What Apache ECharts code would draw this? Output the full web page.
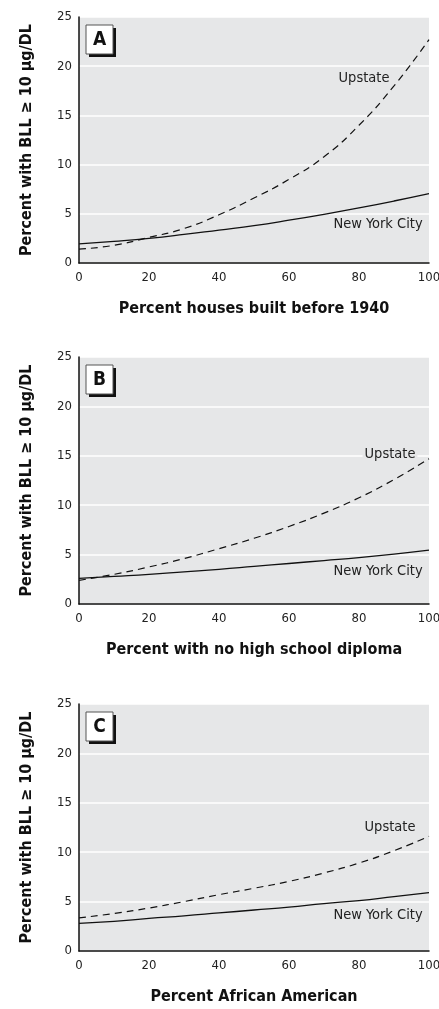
<!DOCTYPE html>
<html>
<head>
<meta charset="utf-8">
<script src="https://cdn.jsdelivr.net/npm/echarts@6/dist/echarts.min.js"></script>
<style>
  html, body { margin: 0; padding: 0; background: #fff; }
  #main { width: 439px; height: 1009px; }
</style>
</head>
<body>
<div id="main"></div>
<script>
  // x positions shared by all three panels
  var xValues = [0, 10, 20, 30, 40, 50, 60, 70, 80, 90, 100]

  // A: percent houses built before 1940
  var nycA = [1.95, 2.2, 2.5, 2.9, 3.35, 3.8, 4.35, 4.95, 5.6, 6.3, 7.05]
  var upstateA = [1.4, 1.8, 2.6, 3.5, 4.9, 6.6, 8.5, 10.8, 14.0, 18.0, 22.7]
  // B: percent with no high school diploma
  var nycB = [2.6, 2.8, 3.0, 3.25, 3.5, 3.8, 4.1, 4.4, 4.7, 5.05, 5.45]
  var upstateB = [2.4, 3.0, 3.75, 4.6, 5.6, 6.65, 7.85, 9.2, 10.75, 12.6, 14.7]
  // C: percent African American
  var nycC = [2.8, 3.0, 3.3, 3.55, 3.85, 4.15, 4.45, 4.8, 5.1, 5.5, 5.9]
  var upstateC = [3.35, 3.8, 4.35, 5.0, 5.7, 6.35, 7.05, 7.9, 8.9, 10.15, 11.6]

  var xTitles = ['Percent houses built before 1940', 'Percent with no high school diploma', 'Percent African American']
  var panelLetters = ['A', 'B', 'C']
  var yTitle = 'Percent with BLL \u2265 10 \u03bcg/DL'
  var yTicks = [0, 5, 10, 15, 20, 25]
  var xTicks = [0, 20, 40, 60, 80, 100]

  var narrow = "'DejaVu Sans Condensed', 'Liberation Sans Narrow', sans-serif"
  var plotBg = '#e6e7e8'
  var grids = [
    { left: 79, top: 17, width: 350, height: 246 },
    { left: 79, top: 357, width: 350, height: 247 },
    { left: 79, top: 704, width: 350, height: 247 }
  ]
  // where the curve names sit, per panel
  var labelPos = [
    { up: [364, 78], ny: [378, 224] },
    { up: [390, 454], ny: [378, 571] },
    { up: [390, 827], ny: [378, 915] }
  ]
  var panels = [[nycA, upstateA], [nycB, upstateB], [nycC, upstateC]]

  function pairs (ys) {
    return xValues.map(function (x, i) { return [x, ys[i]] })
  }

  var gridList = []
  var xAxes = []
  var yAxes = []
  var series = []
  var graphics = []

  grids.forEach(function (g, i) {
    gridList.push({
      left: g.left,
      top: g.top,
      width: g.width,
      height: g.height,
      outerBoundsMode: 'none',
      show: true,
      backgroundColor: plotBg,
      borderWidth: 0
    })
    xAxes.push({
      gridIndex: i,
      type: 'value',
      min: xTicks[0],
      max: xTicks[xTicks.length - 1],
      interval: 20,
      name: xTitles[i],
      nameLocation: 'middle',
      nameGap: 38,
      nameTextStyle: { fontFamily: narrow, fontWeight: 'bold', fontSize: 16, color: '#111' },
      axisLine: { show: true, lineStyle: { color: '#111', width: 1.5 } },
      axisTick: { show: false },
      splitLine: { show: false },
      axisLabel: { fontFamily: narrow, fontSize: 13, color: '#222', margin: 8 }
    })
    yAxes.push({
      gridIndex: i,
      type: 'value',
      min: yTicks[0],
      max: yTicks[yTicks.length - 1],
      interval: 5,
      name: yTitle,
      nameLocation: 'middle',
      nameGap: 44,
      nameTextStyle: { fontFamily: narrow, fontWeight: 'bold', fontSize: 16, color: '#111' },
      axisLine: { show: true, lineStyle: { color: '#111', width: 1.5 } },
      axisTick: { show: false },
      splitLine: { show: true, lineStyle: { color: '#ffffff', width: 1.5 } },
      axisLabel: { fontFamily: narrow, fontSize: 13, color: '#222', margin: 7 }
    })
    series.push({
      name: 'New York City',
      type: 'line',
      xAxisIndex: i,
      yAxisIndex: i,
      smooth: true,
      showSymbol: false,
      lineStyle: { color: '#111', width: 1.3 },
      data: pairs(panels[i][0])
    })
    series.push({
      name: 'Upstate',
      type: 'line',
      xAxisIndex: i,
      yAxisIndex: i,
      smooth: true,
      showSymbol: false,
      lineStyle: { color: '#111', width: 1.2, type: [7, 5] },
      data: pairs(panels[i][1])
    })

    // panel letter box with drop shadow
    var bx = g.left + 7
    var by = g.top + 8
    graphics.push({ type: 'rect', shape: { x: bx + 3, y: by + 3, width: 27, height: 29 }, style: { fill: '#111' } })
    graphics.push({ type: 'rect', shape: { x: bx, y: by, width: 27, height: 29 }, style: { fill: '#fff', stroke: '#555', lineWidth: 1 } })
    graphics.push({
      type: 'text',
      x: bx + 13.5,
      y: by + 15,
      style: { text: panelLetters[i], fontFamily: narrow, fontWeight: 'bold', fontSize: 19, fill: '#111', align: 'center', verticalAlign: 'middle' }
    })
    // curve names (plot colour behind, so lines stop at the text)
    graphics.push({
      type: 'text',
      x: labelPos[i].up[0],
      y: labelPos[i].up[1],
      z: 10,
      style: { text: 'Upstate', fontFamily: narrow, fontSize: 14.5, fill: '#222', align: 'center', verticalAlign: 'middle', backgroundColor: plotBg, padding: [0, 2] }
    })
    graphics.push({
      type: 'text',
      x: labelPos[i].ny[0],
      y: labelPos[i].ny[1],
      z: 10,
      style: { text: 'New York City', fontFamily: narrow, fontSize: 14.5, fill: '#222', align: 'center', verticalAlign: 'middle' }
    })
  })

  var chart = echarts.init(document.getElementById('main'), null, { renderer: 'canvas' })
  chart.setOption({
    animation: false,
    backgroundColor: '#fff',
    grid: gridList,
    xAxis: xAxes,
    yAxis: yAxes,
    series: series,
    graphic: graphics
  })
</script>
</body>
</html>
